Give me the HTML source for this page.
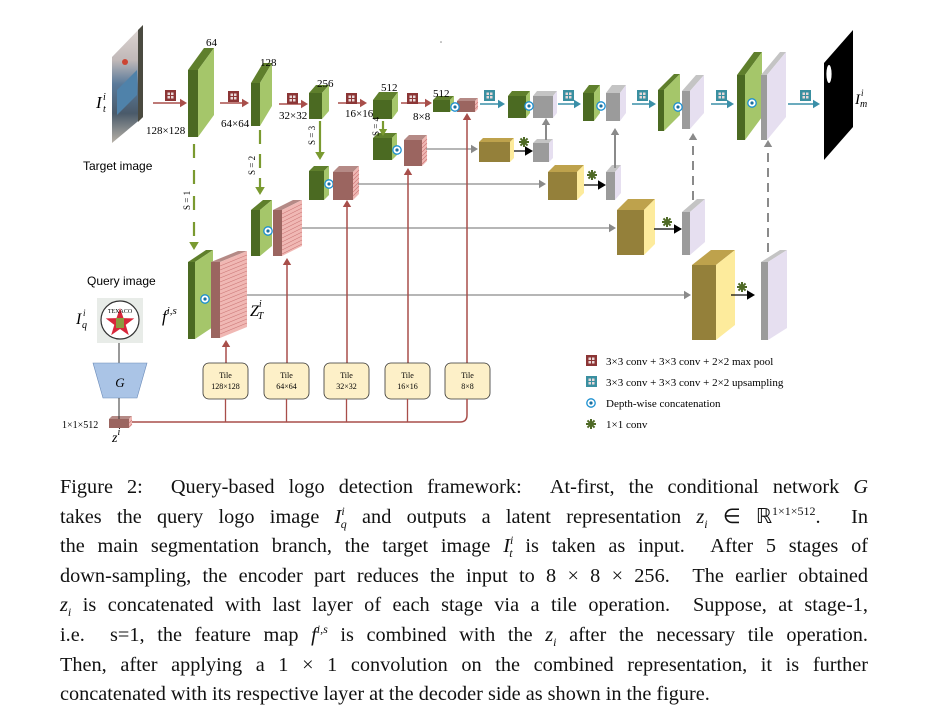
<!DOCTYPE html>
<html><head><meta charset="utf-8">
<style>
body{margin:0;background:#fff;width:932px;height:718px;overflow:hidden;position:relative;font-family:"Liberation Serif",serif}
svg{position:absolute;left:0;top:0}
.cap{position:absolute;left:60px;top:473px;width:808px;font-size:20.3px;line-height:29.6px;color:#111}
.cap div{text-align:justify;text-align-last:justify;white-space:nowrap}
.cap div.l{text-align-last:left}
i{font-style:italic}
sup,sub{font-size:12px;line-height:0}
</style></head><body>
<svg id="s" width="932" height="718" viewBox="0 0 932 718"></svg>
<div class="cap">
<div>Figure 2: &nbsp;Query-based logo detection framework: &nbsp;At-first, the conditional network <i>G</i></div>
<div>takes the query logo image <i>I</i><sup><i>i</i></sup><sub style="margin-left:-4px"><i>q</i></sub> and outputs a latent representation <i>z</i><sub><i>i</i></sub> ∈ ℝ<sup>1×1×512</sup>. &nbsp;In</div>
<div>the main segmentation branch, the target image <i>I</i><sup><i>i</i></sup><sub style="margin-left:-4px"><i>t</i></sub> is taken as input. &nbsp;After 5 stages of</div>
<div>down-sampling, the encoder part reduces the input to 8 × 8 × 256. &nbsp;The earlier obtained</div>
<div><i>z</i><sub><i>i</i></sub> is concatenated with last layer of each stage via a tile operation. &nbsp;Suppose, at stage-1,</div>
<div>i.e. &nbsp;s=1, the feature map <i>f</i><sup><i>i,s</i></sup> is combined with the <i>z</i><sub><i>i</i></sub> after the necessary tile operation.</div>
<div>Then, after applying a 1 × 1 convolution on the combined representation, it is further</div>
<div class="l">concatenated with its respective layer at the decoder side as shown in the figure.</div>
</div>
<script>
var o='';
function P(pts,f,st){o+='<polygon points="'+pts.map(function(p){return p.join(',')}).join(' ')+'" fill="'+f+'"'+(st?' stroke="'+st+'" stroke-width="0.6"':'')+'/>';}
function box(x,y,w,h,dx,dy,fr,tp,sd,brick){
 P([[x,y],[x+dx,y-dy],[x+w+dx,y-dy],[x+w,y]],tp);
 P([[x+w,y],[x+w+dx,y-dy],[x+w+dx,y+h-dy],[x+w,y+h]],sd);
 P([[x,y],[x+w,y],[x+w,y+h],[x,y+h]],fr);
 if(brick){for(var yy=y+4;yy<y+h;yy+=4){o+='<line x1="'+(x+w)+'" y1="'+yy+'" x2="'+(x+w+dx)+'" y2="'+(yy-dy)+'" stroke="#c77" stroke-width="0.6"/>';}}
}
var DG='#4b6a22',TG='#5f7f2c',LG='#a5c66a',GR='#9b9b9b',GT='#c4c4c4',LV='#e6dff0',PK='#9b6560',PT='#b58a86',PS='#f0b8b4',YF='#94803a',YT='#bea24c',YS='#fdeb9c';
function green(x,y,w,h,dx,dy){box(x,y,w,h,dx,dy,DG,TG,LG);}
function gray(x,y,w,h,dx,dy){box(x,y,w,h,dx,dy,GR,GT,LV);}
function pink(x,y,w,h,dx,dy){box(x,y,w,h,dx,dy,PK,PT,PS,1);}
function yel(x,y,w,h,dx,dy){box(x,y,w,h,dx,dy,YF,YT,YS);}
function L(x1,y1,x2,y2,c,w,d){o+='<line x1="'+x1+'" y1="'+y1+'" x2="'+x2+'" y2="'+y2+'" stroke="'+c+'" stroke-width="'+(w||1.5)+'"'+(d?' stroke-dasharray="'+d+'"':'')+'/>';}
function arrR(x1,x2,y,c,w,hs){hs=hs||7;L(x1,y,x2-hs,y,c,w);P([[x2,y],[x2-hs,y-hs*0.6],[x2-hs,y+hs*0.6]],c);}
function arrU(x,y1,y2,c,w,d,hs){hs=hs||7;L(x,y1,x,y2+hs,c,w,d);P([[x,y2],[x-hs*0.6,y2+hs],[x+hs*0.6,y2+hs]],c);}
function arrD(x,y1,y2,c,w,d,hs){hs=hs||8;L(x,y1,x,y2-hs,c,w,d);P([[x,y2],[x-hs*0.6,y2-hs],[x+hs*0.6,y2-hs]],c);}
function icon(x,y,c){o+='<rect x="'+x+'" y="'+y+'" width="11" height="11" fill="'+c+'"/>';[[2.5,2.5],[6,2.5],[2.5,6],[6,6]].forEach(function(p){o+='<rect x="'+(x+p[0])+'" y="'+(y+p[1])+'" width="2.5" height="2.5" fill="#e8d8d8"/>';});}
function cc(x,y){o+='<circle cx="'+x+'" cy="'+y+'" r="4.2" fill="#fff" stroke="#1a8fd0" stroke-width="1.3"/><circle cx="'+x+'" cy="'+y+'" r="1.6" fill="#1a6f9f"/>';}
function ast(x,y){for(var a=0;a<4;a++){var t=a*Math.PI/4;L(x-5*Math.cos(t),y-5*Math.sin(t),x+5*Math.cos(t),y+5*Math.sin(t),'#4f6a26',2);}}
function T(x,y,s,sz,extra){o+='<text x="'+x+'" y="'+y+'" font-family="Liberation Serif,serif" font-size="'+(sz||10)+'" '+(extra||'')+'>'+s+'</text>';}
var RD='#a84e4a',TL='#3a8fa8',GY='#8a8a8a',GD='#7a9a30';

/* target photo */
o+='<defs><linearGradient id="ph" x1="0" y1="0" x2="0" y2="1"><stop offset="0" stop-color="#e0d8d4"/><stop offset="0.3" stop-color="#c0b8b8"/><stop offset="0.5" stop-color="#5a7a9a"/><stop offset="0.75" stop-color="#4a5a6a"/><stop offset="1" stop-color="#b8b2a8"/></linearGradient></defs>';
P([[112,57],[143,25],[143,117],[112,143]],'url(#ph)');
P([[117,90],[137,70],[137,95],[117,115]],'#4f82aa');
o+='<circle cx="125" cy="62" r="3" fill="#c43"/>';
P([[138,30],[143,25],[143,117],[138,122]],'#4a4a40');
o+='<text x="96" y="108" font-family="Liberation Serif,serif" font-style="italic" font-size="17">I</text><text x="103" y="100" font-family="Liberation Serif,serif" font-style="italic" font-size="10">i</text><text x="103" y="112" font-family="Liberation Serif,serif" font-style="italic" font-size="10">t</text>';
o+='<text x="83" y="170" font-family="Liberation Sans,sans-serif" font-size="12">Target image</text>';

/* encoder */
green(188,70,10,67,16,22);
green(251,83,9,43,12,20);
green(309,93,13,26,7,8);
green(373,100,19,19,6,8);
green(433,100,17,12,4,4);
pink(457,101,18,11,3,3);
cc(455,107);
arrR(153,187,103,RD,1.5);icon(165,90,'#8b3535');
arrR(220,249,103,RD,1.5);icon(228,91,'#8b3535');
arrR(279,308,104,RD,1.5);icon(287,93,'#8b3535');
arrR(338,367,103,RD,1.5);icon(346,93,'#8b3535');
arrR(401,432,103,RD,1.5);icon(407,93,'#8b3535');
T(206,46,'64',11);T(146,134,'128×128',11);
T(260,66,'128',11);T(221,127,'64×64',11);
T(317,87,'256',11);T(279,119,'32×32',11);
T(381,91,'512',11);T(345,117,'16×16',11);
T(413,120,'8×8',11);T(433,97,'512',11);

/* decoder top row */
arrR(480,505,104,TL,1.5);icon(484,90,'#3a8fa0');
green(508,96,18,22,4,5);gray(533,96,20,22,4,5);cc(529,106);
arrR(558,581,104,TL,1.5);icon(563,90,'#3a8fa0');
green(583,93,11,28,6,8);gray(606,93,14,28,6,8);cc(601,106);
arrR(632,656,104,TL,1.5);icon(637,90,'#3a8fa0');
green(658,90,6,41,16,16);gray(682,91,8,38,14,16);cc(678,107);
arrR(711,734,104,TL,1.5);icon(716,90,'#3a8fa0');
green(737,75,8,65,17,23);gray(761,75,6,65,19,23);cc(752,103);
arrR(788,820,104,TL,1.5);icon(800,90,'#3a8fa0');
P([[824,63],[853,30],[853,127],[824,160]],'#000');
o+='<ellipse cx="829" cy="74" rx="2.6" ry="9" fill="#fff"/>';
o+='<text x="855" y="104" font-family="Liberation Serif,serif" font-style="italic" font-size="15">I</text><text x="861" y="96" font-family="Liberation Serif,serif" font-style="italic" font-size="9">i</text><text x="860" y="107" font-family="Liberation Serif,serif" font-style="italic" font-size="10">m</text>';

/* row 2 */
green(373,138,19,22,5,5);cc(397,150);pink(404,140,18,26,5,5);
arrR(426,478,149,GY,1.2);
yel(479,142,31,20,4,4);ast(524,142);arrR(514,533,151,'#000',1.2,8);
gray(533,143,16,19,4,4);arrU(546,140,118,GY,2);
/* row 3 */
green(309,171,15,29,5,5);cc(329,184);pink(333,172,20,28,6,6);
arrR(358,546,184,GY,1.2);
yel(548,172,29,28,7,7);ast(592,175);arrR(584,606,185,'#000',1.2,8);
gray(606,172,9,28,6,7);arrU(615,168,128,GY,2);
/* row 4 */
green(251,210,9,46,12,10);cc(268,231);pink(273,210,9,46,20,10);
arrR(302,616,228,GY,1.2);
yel(617,210,27,45,11,11);ast(667,222);arrR(654,682,229,'#000',1.2,8);
gray(682,212,8,43,15,13);arrU(693,200,133,GY,2,'9,6');
/* row 5 */
green(188,262,7,77,18,12);cc(205,299);pink(211,262,9,76,27,11);
arrR(247,691,295,GY,1.2);
yel(692,265,24,75,19,15);ast(742,287);arrR(731,755,295,'#000',1.2,8);
gray(761,262,7,78,19,12);arrU(768,252,140,GY,2,'9,6');
T(162,322,'<tspan font-style="italic" font-size="17">f</tspan><tspan font-style="italic" font-size="11" dy="-8">i,s</tspan>',17);
T(250,316,'<tspan font-style="italic" font-size="16">Z</tspan><tspan font-style="italic" font-size="10" dy="-9">i</tspan><tspan font-style="italic" font-size="10" dx="-4" dy="12">T</tspan>',16);

/* green dashed */
arrD(194,144,250,GD,2.2,'14,12');T(190,210,'S = 1',9,'transform="rotate(-90 190 210)"');
arrD(260,130,195,GD,2.2,'14,10');T(255,175,'S = 2',9,'transform="rotate(-90 255 175)"');
arrD(320,121,160,GD,2.2);T(315,145,'S = 3',9,'transform="rotate(-90 315 145)"');
arrD(383,121,136,GD,2.2,'',7);T(379,136,'S = 4',9,'transform="rotate(-90 379 136)"');

/* red tile lines */
arrU(226,363,340,RD,1.5);
arrU(287,363,258,RD,1.5);
arrU(347,363,200,RD,1.5);
arrU(408,363,168,RD,1.5);
arrU(467,363,113,RD,1.5);
var tx=[[203,'128×128'],[264,'64×64'],[324,'32×32'],[385,'16×16'],[445,'8×8']];
tx.forEach(function(t){o+='<rect x="'+t[0]+'" y="363" width="45" height="36" rx="6" fill="#fdf0c8" stroke="#333" stroke-width="0.8"/>';T(t[0]+22.5,378,'Tile',8,'text-anchor="middle"');T(t[0]+22.5,389,t[1],8,'text-anchor="middle"');
 if(t[0]<445)L(t[0]+22.5,399,t[0]+22.5,422,RD,1.3);});
o+='<path d="M131 422 H460 Q467 422 467 415 V399" fill="none" stroke="'+RD+'" stroke-width="1.5"/>';
pink(109,419,20,9,3,3);
T(62,428,'1×1×512',10);
T(112,442,'<tspan font-style="italic" font-size="14">z</tspan><tspan font-style="italic" font-size="10" dy="-7">i</tspan>',14);

/* query */
o+='<text x="87" y="285" font-family="Liberation Sans,sans-serif" font-size="12">Query image</text>';
o+='<rect x="97" y="298" width="46" height="45" fill="#e8ece8"/><circle cx="120" cy="320" r="19" fill="#fff" stroke="#333" stroke-width="1.2"/>';
var st=[];for(var k=0;k<10;k++){var r=k%2?6:15,a=-Math.PI/2+k*Math.PI/5;st.push([120+r*Math.cos(a),323+r*Math.sin(a)]);}P(st,'#d8263a');
o+='<rect x="116" y="318" width="8" height="10" fill="#8a9a40"/>';
T(120,313,'TEXACO',6,'text-anchor="middle" font-family="Liberation Sans,sans-serif"');
o+='<text x="76" y="324" font-family="Liberation Serif,serif" font-style="italic" font-size="16">I</text><text x="83" y="316" font-family="Liberation Serif,serif" font-style="italic" font-size="9">i</text><text x="82" y="328" font-family="Liberation Serif,serif" font-style="italic" font-size="10">q</text>';
L(119,343,119,363,'#333',1);
P([[93,363],[147,363],[137,398],[103,398]],'#aac4e6','#6a8ab8');
o+='<text x="120" y="387" text-anchor="middle" font-family="Liberation Serif,serif" font-style="italic" font-size="13">G</text>';
L(119,398,119,419,'#333',1);

/* legend */
icon(586,355,'#8b3535');T(606,365,'3×3 conv + 3×3 conv + 2×2 max pool',11);
icon(586,376,'#3a8fa0');T(606,386,'3×3 conv + 3×3 conv + 2×2 upsampling',11);
cc(591,403);T(606,407,'Depth-wise concatenation',11);
ast(591,424);T(606,428,'1×1 conv',11);
o+='<circle cx="441" cy="42" r="0.8" fill="#888"/>';
document.getElementById('s').innerHTML=o;
</script>
</body></html>
